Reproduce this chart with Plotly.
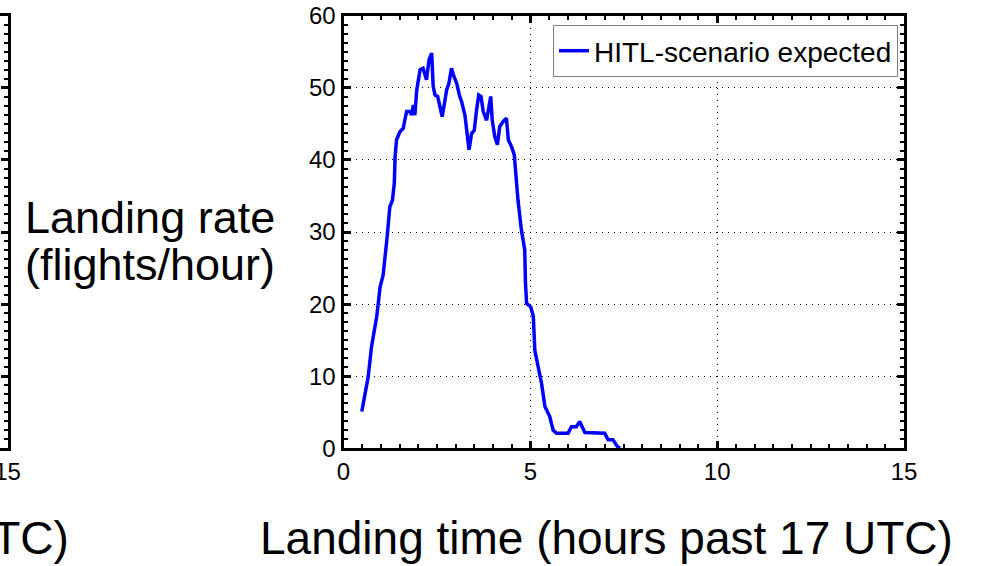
import plotly.graph_objects as go

# ---- data ----
hours = [0.49, 0.66, 0.75, 0.89, 0.98, 1.06, 1.16, 1.20, 1.24, 1.31,
         1.36, 1.38, 1.42, 1.51, 1.60, 1.64, 1.69, 1.78, 1.82, 1.87,
         1.91, 1.96, 2.05, 2.13, 2.22, 2.29, 2.36, 2.40, 2.45, 2.52,
         2.58, 2.64, 2.71, 2.76, 2.82, 2.89, 2.96, 3.03, 3.11, 3.16,
         3.25, 3.29, 3.36, 3.43, 3.50, 3.56, 3.62, 3.68, 3.74, 3.83,
         3.89, 3.94, 3.98, 4.05, 4.12, 4.18, 4.27, 4.36, 4.41, 4.50,
         4.57, 4.67, 4.76, 4.85, 4.87, 4.90, 5.01, 5.08, 5.12, 5.21,
         5.30, 5.39, 5.52, 5.61, 5.70, 6.01, 6.10, 6.23, 6.32, 6.46,
         6.99, 7.08, 7.21, 7.32, 7.40]
rate = [5.1, 9.9, 14.1, 18.3, 22.4, 24.0, 28.9, 32.1, 33.5, 34.4,
        36.8, 40.4, 42.8, 43.9, 44.4, 45.5, 46.7, 46.7, 46.2, 47.6,
        46.2, 49.7, 52.5, 52.7, 51.1, 53.9, 54.8, 50.2, 49.0, 48.8,
        47.4, 46.0, 48.1, 49.7, 50.6, 52.7, 51.5, 50.6, 48.8, 48.1,
        46.2, 44.1, 41.4, 43.7, 44.1, 46.9, 49.0, 48.8, 46.7, 45.5,
        47.6, 48.8, 45.5, 43.2, 42.1, 44.6, 45.3, 45.8, 42.8, 41.8,
        40.7, 34.4, 30.3, 27.5, 22.9, 20.1, 19.6, 18.3, 13.6, 11.3,
        9.0, 5.8, 4.4, 2.5, 2.1, 2.1, 3.0, 3.0, 3.7, 2.2,
        2.1, 1.2, 1.2, 0.3, 0.0]
series_name = "HITL-scenario expected"
x_ticks = [0, 5, 10, 15]
y_ticks = [0, 10, 20, 30, 40, 50, 60]
left_x_ticks = [15]
x_title = "Landing time (hours past 17 UTC)"
y_title_lines = ["Landing rate", "(flights/hour)"]

W, H = 984, 566
FONT = "Liberation Sans, Arial, Helvetica, sans-serif"


def fx(p):
    return p / W


def fy(p):
    return 1 - p / H


ydom = [fy(448.3), fy(15.7)]

fig = go.Figure()
fig.add_trace(go.Scatter(x=hours, y=rate, mode="lines", name=series_name,
                         line=dict(color="#0000FF", width=3.5),
                         xaxis="x", yaxis="y"))
# fragment of the neighbouring panel (cut at the left edge)
fig.add_trace(go.Scatter(x=[], y=[], mode="lines", showlegend=False,
                         xaxis="x2", yaxis="y2"))

tickfont = dict(family=FONT, size=24, color="black")
common = dict(showline=True, linewidth=3, linecolor="black", ticks="inside",
              ticklen=7, tickwidth=2.5, tickcolor="black", zeroline=False,
              tickfont=tickfont, automargin=False)
minor_y = dict(dtick=1.25, ticks="inside", ticklen=4, tickwidth=2,
               tickcolor="black", showgrid=False)

fig.update_layout(
    width=W, height=H,
    margin=dict(l=0, r=0, t=0, b=0, autoexpand=False),
    paper_bgcolor="white", plot_bgcolor="white",
    showlegend=True,
    font=dict(family=FONT, color="black"),
    xaxis=dict(domain=[fx(343.5), fx(904)], range=[0, 15], tickvals=x_ticks,
               anchor="y", mirror="ticks", showgrid=True, gridcolor="black",
               gridwidth=1, griddash="1px,5px",
               minor=dict(dtick=0.5, ticks="inside", ticklen=4, tickwidth=2,
                          tickcolor="black", showgrid=False),
               **common),
    yaxis=dict(domain=ydom, range=[0, 60], tickvals=y_ticks, anchor="x",
               mirror="ticks", showgrid=True, gridcolor="black", gridwidth=1,
               griddash="1px,5px", minor=minor_y, **common),
    xaxis2=dict(domain=[0, fx(7.5)], range=[14.9, 15], tickvals=left_x_ticks,
                anchor="y2", mirror=True, showgrid=False,
                ticklabeloverflow="allow", **common),
    yaxis2=dict(domain=ydom, range=[0, 60], tickvals=y_ticks, anchor="x2",
                side="right", showticklabels=False, showgrid=False,
                minor=minor_y, **common),
    legend=dict(x=fx(898), xanchor="right", y=fy(25), yanchor="top",
                bgcolor="white", bordercolor="#808080", borderwidth=1,
                font=dict(family=FONT, size=28, color="black")),
)

big = dict(family=FONT, size=45, color="black")
fig.add_annotation(text=y_title_lines[0], xref="paper", yref="paper",
                   x=fx(150), y=fy(217), xanchor="center", yanchor="middle",
                   showarrow=False, font=big)
fig.add_annotation(text=y_title_lines[1], xref="paper", yref="paper",
                   x=fx(150), y=fy(264), xanchor="center", yanchor="middle",
                   showarrow=False, font=big)
fig.add_annotation(text=x_title, xref="paper", yref="paper",
                   x=fx(606), y=fy(538), xanchor="center", yanchor="middle",
                   showarrow=False, font=dict(family=FONT, size=46, color="black"))
fig.add_annotation(text=x_title, xref="paper", yref="paper",
                   x=fx(71), y=fy(538), xanchor="right", yanchor="middle",
                   showarrow=False, font=dict(family=FONT, size=46, color="black"))

fig.write_html("out.html",
               config={"displayModeBar": False},
               post_script="document.body.style.margin='0';"
                           "document.body.style.overflow='hidden';")
